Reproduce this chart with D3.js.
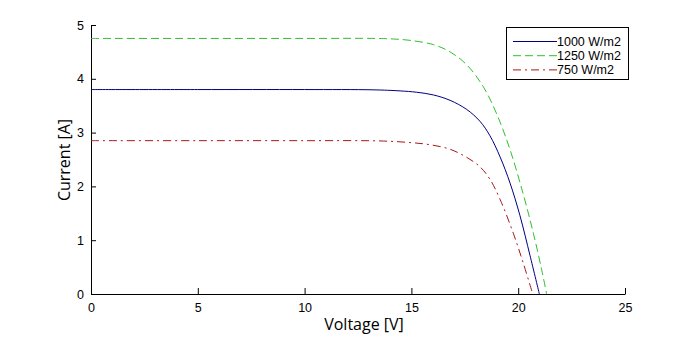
<!DOCTYPE html>
<html><head><meta charset="utf-8">
<script src="https://cdn.jsdelivr.net/npm/d3@7"></script>
<style>body{margin:0;background:#fff}svg{display:block}</style>
</head><body>
<svg id="c" width="691" height="343"></svg>
<script>
const xTicks = [0, 5, 10, 15, 20, 25];
const yTicks = [0, 1, 2, 3, 4, 5];
const seriesNames = ["1000 W/m2", "1250 W/m2", "750 W/m2"];
const v1000 = [0,5,10,13.2,14.47,15.25,16.03,16.81,17.59,18.21,18.68,19.15,19.62,20.08,20.55,20.99];
const i1000 = [3.80,3.80,3.80,3.795,3.775,3.75,3.70,3.60,3.43,3.21,2.94,2.55,2.06,1.46,0.72,0];
const v1250 = [0,5,10,13.4,14.15,14.93,16.03,16.81,17.59,18.37,18.99,19.62,20.24,20.71,21.10,21.33];
const i1250 = [4.75,4.75,4.75,4.75,4.74,4.715,4.635,4.50,4.26,3.85,3.35,2.68,1.85,1.13,0.45,0];
const v750 = [0,5,10,13.53,14.93,15.87,16.81,17.59,18.21,18.68,19.15,19.77,20.24,20.68];
const i750 = [2.85,2.85,2.85,2.845,2.815,2.775,2.69,2.54,2.365,2.13,1.76,1.13,0.57,0];

const svg = d3.select("#c");
const x = d3.scaleLinear().domain([0,25]).range([91,625]);
const y = d3.scaleLinear().domain([0,5]).range([294,25]);

const tickFont = "'Liberation Sans', Arial, sans-serif";
const gx = svg.append("g").attr("transform","translate(0,294)")
  .call(d3.axisBottom(x).tickValues(xTicks).tickSizeInner(-6).tickSizeOuter(0).tickPadding(10).tickFormat(d3.format("d")));
const gy = svg.append("g").attr("transform","translate(91,0)")
  .call(d3.axisLeft(y).tickValues(yTicks).tickSizeInner(-5).tickSizeOuter(0).tickPadding(7).tickFormat(d3.format("d")));
[gx, gy].forEach(g => {
  g.selectAll("text").attr("font-family", tickFont).attr("font-size", 12.5).attr("fill","#000");
  g.selectAll("line").attr("stroke","#000");
  g.select(".domain").attr("stroke","#000");
});
gx.selectAll("text").attr("dy","0.6em");

const series = [
  {name: seriesNames[0], v: v1000, i: i1000, color: "#000080", dash: null},
  {name: seriesNames[1], v: v1250, i: i1250, color: "#2fbf2f", dash: "8,4"},
  {name: seriesNames[2], v: v750, i: i750, color: "#a81818", dash: "8,4,2,4"}
];
const line = d3.line().x(d => x(d[0])).y(d => y(d[1])).curve(d3.curveCatmullRom.alpha(0.5));
series.forEach(s => {
  svg.append("path").datum(s.v.map((v,k) => [v, s.i[k]]))
    .attr("d", line).attr("fill","none").attr("stroke", s.color)
    .attr("stroke-width", 1).attr("stroke-dasharray", s.dash);
});

const axFont = "'Open Sans', 'Noto Sans', sans-serif";
svg.append("text").attr("x", 364).attr("y", 330).attr("text-anchor","middle")
  .attr("font-family", axFont).attr("font-size", 16).text("Voltage [V]");
svg.append("text").attr("transform","translate(70,160) rotate(-90)").attr("text-anchor","middle")
  .attr("font-family", axFont).attr("font-size", 16).text("Current [A]");

const lg = svg.append("g");
lg.append("rect").attr("x", 506.5).attr("y", 27.5).attr("width", 122).attr("height", 52)
  .attr("fill","#fff").attr("stroke","#000");
series.forEach((s, k) => {
  const yy = 41.5 + k * 14.2;
  lg.append("line").attr("x1", 513).attr("x2", 557).attr("y1", yy).attr("y2", yy)
    .attr("stroke", s.color).attr("stroke-dasharray", s.dash);
  lg.append("text").attr("x", 557).attr("y", yy).attr("dy","0.35em")
    .attr("font-family", tickFont).attr("font-size", 12.5).text(s.name);
});
</script>
</body></html>
